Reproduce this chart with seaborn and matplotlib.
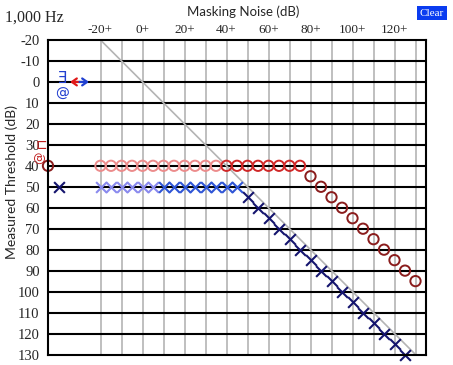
import numpy as np
import pandas as pd
import seaborn as sns
import matplotlib.pyplot as plt

sns.set_style("white")
plt.rcParams["font.family"] = ["DejaVu Sans"]

# masking noise levels (x) and measured thresholds (y)
pink_o_x = [-20, -15, -10, -5, 0, 5, 10, 15, 20, 25, 30, 35]
pink_o_y = [40, 40, 40, 40, 40, 40, 40, 40, 40, 40, 40, 40]
red_o_x = [40, 45, 50, 55, 60, 65, 70, 75]
red_o_y = [40, 40, 40, 40, 40, 40, 40, 40]
dark_o_x = [-45, 80, 85, 90, 95, 100, 105, 110, 115, 120, 125, 130]
dark_o_y = [40, 45, 50, 55, 60, 65, 70, 75, 80, 85, 90, 95]

lav_x_x = [-20, -15, -10, -5, 0, 5]
lav_x_y = [50, 50, 50, 50, 50, 50]
blue_x_x = [10, 15, 20, 25, 30, 35, 40, 45]
blue_x_y = [50, 50, 50, 50, 50, 50, 50, 50]
navy_x_x = [-40, 50, 55, 60, 65, 70, 75, 80, 85, 90, 95, 100, 105, 110, 115, 120, 125]
navy_x_y = [50, 55, 60, 65, 70, 75, 80, 85, 90, 95, 100, 105, 110, 115, 120, 125, 130]

diag_x = [-20, 130]
diag_y = [-20, 130]

v_grid = [-20, -10, 0, 10, 20, 30, 40, 50, 60, 70, 80, 90, 100, 110, 120, 130]
h_grid = [-10, 0, 10, 20, 30, 40, 50, 60, 70, 80, 90, 100, 110, 120]
y_ticks = [-20, -10, 0, 10, 20, 30, 40, 50, 60, 70, 80, 90, 100, 110, 120, 130]
top_ticks = [-20, 0, 20, 40, 60, 80, 100, 120]
top_labels = ["-20+", "0+", "20+", "40+", "60+", "80+", "100+", "120+"]

fig = plt.figure(figsize=(4.53, 3.65), dpi=100)
ax = fig.add_axes([48 / 453, 10.5 / 365, 378 / 453, 314.5 / 365])
ax.set_xlim(-45, 135)
ax.set_ylim(130, -20)

for v in v_grid:
    ax.axvline(v, color="#b4b4b4", lw=1.2, zorder=1)
for h in h_grid:
    ax.axhline(h, color="black", lw=1.5, zorder=2)

sns.lineplot(x=diag_x, y=diag_y, color="#b4b4b4", lw=1.2, ax=ax, zorder=2.5)

circle_sets = [(pink_o_x, pink_o_y, "#ec8c8c"), (red_o_x, red_o_y, "#d02828"),
               (dark_o_x, dark_o_y, "#8a1c1c")]
for xs, ys, c in circle_sets:
    sns.scatterplot(x=xs, y=ys, marker="o", s=55, facecolor="none", edgecolor=c,
                    linewidth=1.4, ax=ax, zorder=3, clip_on=False)

cross_sets = [(lav_x_x, lav_x_y, "#8a8aee"), (blue_x_x, blue_x_y, "#2f55d6"),
              (navy_x_x, navy_x_y, "#14146e")]
for xs, ys, c in cross_sets:
    sns.scatterplot(x=xs, y=ys, marker="x", s=60, color=c, linewidth=1.5,
                    ax=ax, zorder=3, clip_on=False)

# symbols near the y axis
ax.text(-38.5, -1.5, "Ǝ", color="#2340d0", fontsize=11, ha="center", va="center", zorder=4)
ax.text(-38.5, 5.5, "@", color="#2340d0", fontsize=10, ha="center", va="center", zorder=4)
ax.text(-48, 30, "⊏", color="#c02020", fontsize=10, ha="center", va="center",
        zorder=4, clip_on=False)
ax.text(-49, 36, "@", color="#c02020", fontsize=9, ha="center", va="center",
        rotation=90, zorder=4, clip_on=False)
arrow_style = "->,head_length=0.35,head_width=0.25"
ax.annotate("", xy=(-34.5, 0), xytext=(-30, 0), zorder=4,
            arrowprops=dict(arrowstyle=arrow_style, color="#e01818", lw=1.6,
                            shrinkA=0, shrinkB=0))
ax.annotate("", xy=(-25.5, 0), xytext=(-30, 0), zorder=4,
            arrowprops=dict(arrowstyle=arrow_style, color="#2040d0", lw=1.6,
                            shrinkA=0, shrinkB=0))

ax.set_yticks(y_ticks)
ax.set_yticklabels([str(t) for t in y_ticks], family="Liberation Serif", fontsize=10.5)
ax.tick_params(axis="y", length=0, pad=6)
ax.xaxis.tick_top()
ax.set_xticks(top_ticks)
ax.set_xticklabels(top_labels, family="Liberation Serif", fontsize=9.5)
ax.tick_params(axis="x", length=0, pad=3)
ax.set_xlabel("")
ax.set_ylabel("")

for sp in ax.spines.values():
    sp.set_color("black")
    sp.set_linewidth(1.5)
    sp.set_zorder(5)

fig.text(243.5 / 453, 1 - 12 / 365, "Masking Noise (dB)", family="Lato", fontsize=9.5,
         ha="center", va="center")
fig.text(12 / 453, 1 - 182 / 365, "Measured Threshold (dB)", family="Lato",
         fontsize=10, rotation=90, ha="center", va="center")
fig.text(5 / 453, 1 - 18 / 365, "1,000 Hz", family="Liberation Serif", fontsize=11.5,
         ha="left", va="center")
fig.text(432 / 453, 1 - 13 / 365, "Clear", family="Liberation Serif", fontsize=8,
         color="white", ha="center", va="center",
         bbox=dict(boxstyle="square,pad=0.25", fc="#0a3cf0", ec="none"))

fig.savefig("out.png", dpi=100)
